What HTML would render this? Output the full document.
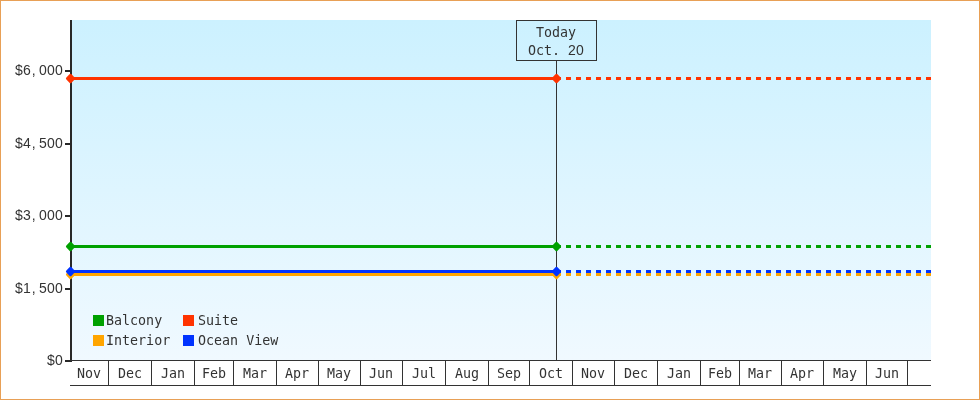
<!DOCTYPE html>
<html><head><meta charset="utf-8"><title>Price chart</title>
<style>
html,body{margin:0;padding:0;background:#fff;}
body{width:980px;height:400px;overflow:hidden;}
svg{display:block;will-change:transform;}
text{font-family:"DejaVu Sans Mono", "Liberation Mono", monospace;font-size:13.33px;fill:#333;}
.n{font-family:"Liberation Sans", sans-serif;font-size:14px;}
</style></head><body>
<svg width="980" height="400" viewBox="0 0 980 400">
<defs><linearGradient id="bg" x1="0" y1="0" x2="0" y2="1"><stop offset="0" stop-color="#ccf1ff"/><stop offset="1" stop-color="#f0f9ff"/></linearGradient></defs>
<rect x="0" y="0" width="980" height="400" fill="#fff"/>
<rect x="0.5" y="0.5" width="979" height="399" fill="none" stroke="#e8a056" stroke-width="1"/>
<rect x="72" y="20" width="859" height="340" fill="url(#bg)"/>
<g shape-rendering="crispEdges">
<rect x="70" y="20" width="2" height="342" fill="#282828"/>
<rect x="65" y="360" width="6" height="2" fill="#282828"/>
<rect x="65" y="288" width="6" height="2" fill="#282828"/>
<rect x="65" y="215" width="6" height="2" fill="#282828"/>
<rect x="65" y="143" width="6" height="2" fill="#282828"/>
<rect x="65" y="70" width="6" height="2" fill="#282828"/>
<rect x="70" y="360" width="861" height="1" fill="#333"/>
<rect x="70" y="385" width="861" height="1" fill="#333"/>
<rect x="108" y="360" width="1" height="26" fill="#333"/>
<rect x="151" y="360" width="1" height="26" fill="#333"/>
<rect x="194" y="360" width="1" height="26" fill="#333"/>
<rect x="233" y="360" width="1" height="26" fill="#333"/>
<rect x="276" y="360" width="1" height="26" fill="#333"/>
<rect x="318" y="360" width="1" height="26" fill="#333"/>
<rect x="360" y="360" width="1" height="26" fill="#333"/>
<rect x="402" y="360" width="1" height="26" fill="#333"/>
<rect x="445" y="360" width="1" height="26" fill="#333"/>
<rect x="488" y="360" width="1" height="26" fill="#333"/>
<rect x="529" y="360" width="1" height="26" fill="#333"/>
<rect x="572" y="360" width="1" height="26" fill="#333"/>
<rect x="614" y="360" width="1" height="26" fill="#333"/>
<rect x="657" y="360" width="1" height="26" fill="#333"/>
<rect x="700" y="360" width="1" height="26" fill="#333"/>
<rect x="739" y="360" width="1" height="26" fill="#333"/>
<rect x="781" y="360" width="1" height="26" fill="#333"/>
<rect x="823" y="360" width="1" height="26" fill="#333"/>
<rect x="866" y="360" width="1" height="26" fill="#333"/>
<rect x="907" y="360" width="1" height="26" fill="#333"/>
<rect x="556" y="60" width="1" height="300" fill="#333"/>
<rect x="516.5" y="20.5" width="80" height="40" fill="none" stroke="#333" stroke-width="1"/>
</g>
<text class="n" x="51 59" y="364.8" text-anchor="middle">$0</text>
<text class="n" x="19 27 33.8 43 51 59" y="292.8" text-anchor="middle">$1,500</text>
<text class="n" x="19 27 33.8 43 51 59" y="219.8" text-anchor="middle">$3,000</text>
<text class="n" x="19 27 33.8 43 51 59" y="147.8" text-anchor="middle">$4,500</text>
<text class="n" x="19 27 33.8 43 51 59" y="74.8" text-anchor="middle">$6,000</text>
<text x="89.0" y="378" text-anchor="middle">Nov</text>
<text x="130.0" y="378" text-anchor="middle">Dec</text>
<text x="173.0" y="378" text-anchor="middle">Jan</text>
<text x="214.0" y="378" text-anchor="middle">Feb</text>
<text x="255.0" y="378" text-anchor="middle">Mar</text>
<text x="297.0" y="378" text-anchor="middle">Apr</text>
<text x="339.0" y="378" text-anchor="middle">May</text>
<text x="381.0" y="378" text-anchor="middle">Jun</text>
<text x="424.0" y="378" text-anchor="middle">Jul</text>
<text x="467.0" y="378" text-anchor="middle">Aug</text>
<text x="509.0" y="378" text-anchor="middle">Sep</text>
<text x="551.0" y="378" text-anchor="middle">Oct</text>
<text x="593.0" y="378" text-anchor="middle">Nov</text>
<text x="636.0" y="378" text-anchor="middle">Dec</text>
<text x="679.0" y="378" text-anchor="middle">Jan</text>
<text x="720.0" y="378" text-anchor="middle">Feb</text>
<text x="760.0" y="378" text-anchor="middle">Mar</text>
<text x="802.0" y="378" text-anchor="middle">Apr</text>
<text x="845.0" y="378" text-anchor="middle">May</text>
<text x="887.0" y="378" text-anchor="middle">Jun</text>
<text x="556" y="37" text-anchor="middle">Today</text>
<text y="55"><tspan x="528">Oct. </tspan><tspan class="n" x="572 580" text-anchor="middle">20</tspan></text>
<line x1="71" y1="274.5" x2="556.5" y2="274.5" stroke="#ffa500" stroke-width="3"/>
<line x1="556" y1="274.5" x2="931" y2="274.5" stroke="#ffa500" stroke-width="3" stroke-dasharray="5 5"/>
<line x1="71" y1="271.5" x2="556.5" y2="271.5" stroke="#0033ff" stroke-width="3"/>
<line x1="556" y1="271.5" x2="931" y2="271.5" stroke="#0033ff" stroke-width="3" stroke-dasharray="5 5"/>
<line x1="71" y1="246.5" x2="556.5" y2="246.5" stroke="#00a100" stroke-width="3"/>
<line x1="556" y1="246.5" x2="931" y2="246.5" stroke="#00a100" stroke-width="3" stroke-dasharray="5 5"/>
<line x1="71" y1="78.5" x2="556.5" y2="78.5" stroke="#ff3300" stroke-width="3"/>
<line x1="556" y1="78.5" x2="931" y2="78.5" stroke="#ff3300" stroke-width="3" stroke-dasharray="5 5"/>
<path d="M67.4 274.5L70.5 271.4L73.6 274.5L70.5 277.6Z" fill="#ffa500" stroke="#ffa500" stroke-width="2.9" stroke-linejoin="round"/>
<path d="M553.4 274.5L556.5 271.4L559.6 274.5L556.5 277.6Z" fill="#ffa500" stroke="#ffa500" stroke-width="2.9" stroke-linejoin="round"/>
<path d="M67.4 271.5L70.5 268.4L73.6 271.5L70.5 274.6Z" fill="#0033ff" stroke="#0033ff" stroke-width="2.9" stroke-linejoin="round"/>
<path d="M553.4 271.5L556.5 268.4L559.6 271.5L556.5 274.6Z" fill="#0033ff" stroke="#0033ff" stroke-width="2.9" stroke-linejoin="round"/>
<path d="M67.4 246.5L70.5 243.4L73.6 246.5L70.5 249.6Z" fill="#00a100" stroke="#00a100" stroke-width="2.9" stroke-linejoin="round"/>
<path d="M553.4 246.5L556.5 243.4L559.6 246.5L556.5 249.6Z" fill="#00a100" stroke="#00a100" stroke-width="2.9" stroke-linejoin="round"/>
<path d="M67.4 78.5L70.5 75.4L73.6 78.5L70.5 81.6Z" fill="#ff3300" stroke="#ff3300" stroke-width="2.9" stroke-linejoin="round"/>
<path d="M553.4 78.5L556.5 75.4L559.6 78.5L556.5 81.6Z" fill="#ff3300" stroke="#ff3300" stroke-width="2.9" stroke-linejoin="round"/>
<rect x="93" y="315" width="11" height="11" fill="#00a100"/>
<text x="106" y="325">Balcony</text>
<rect x="183" y="315" width="11" height="11" fill="#ff3300"/>
<text x="198" y="325">Suite</text>
<rect x="93" y="335" width="11" height="11" fill="#ffa500"/>
<text x="106" y="345">Interior</text>
<rect x="183" y="335" width="11" height="11" fill="#0033ff"/>
<text x="198" y="345">Ocean View</text>
</svg></body></html>
